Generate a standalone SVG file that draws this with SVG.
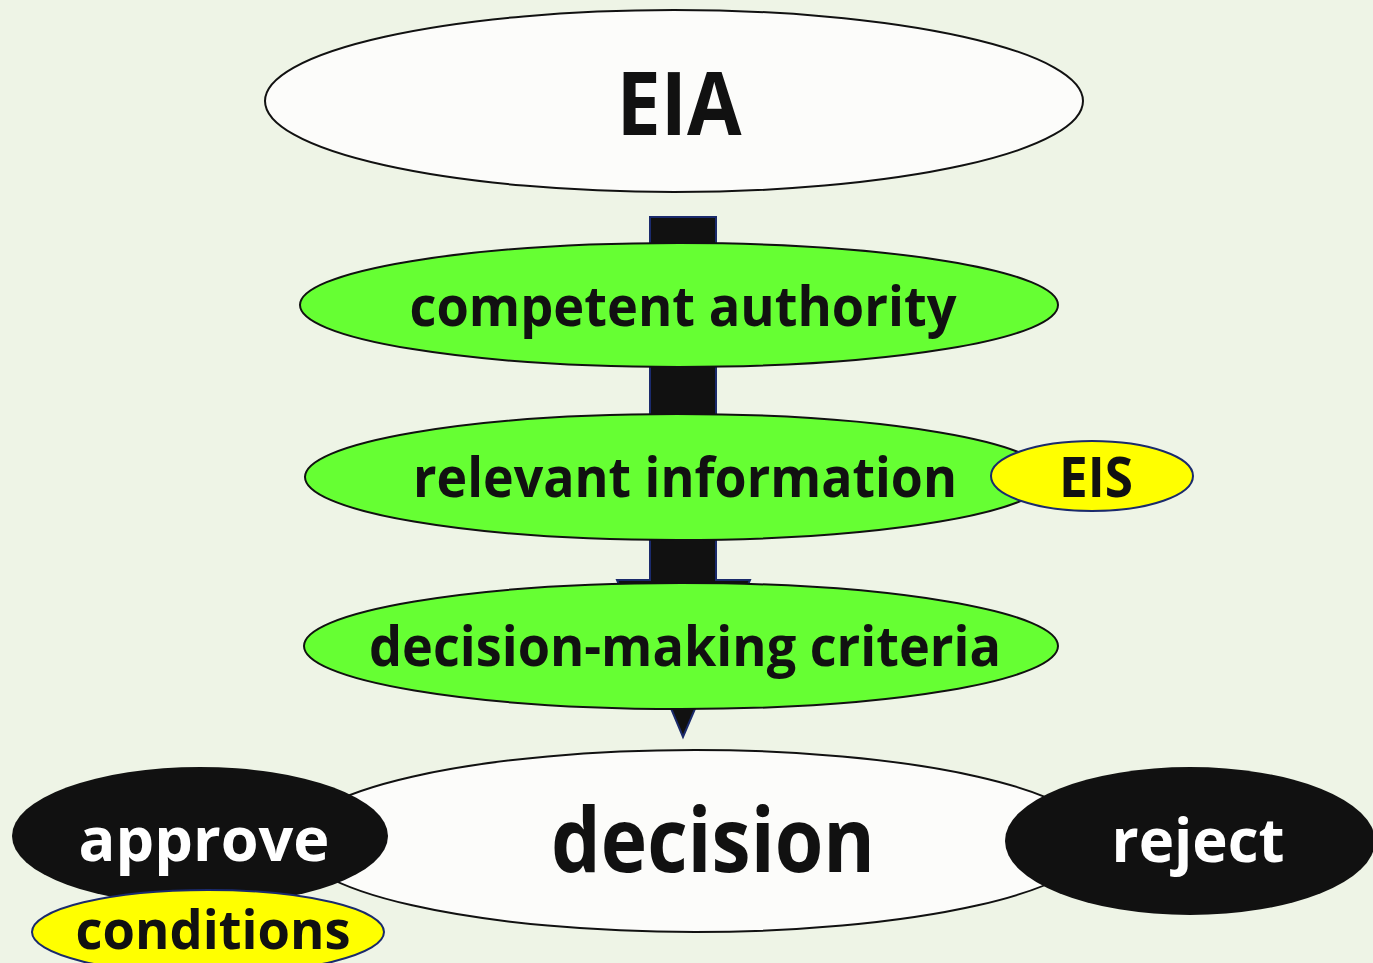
<svg xmlns="http://www.w3.org/2000/svg" width="1373" height="963" viewBox="0 0 1373 963">
<style>
.t{font-family:"Open Sans","Noto Sans","Liberation Sans",sans-serif;font-weight:700;text-anchor:middle;fill:#111;font-variant-ligatures:none}
.w{fill:#fff}
.white{fill:#fcfcfa;stroke:#111;stroke-width:2}
.green{fill:#66ff33;stroke:#111;stroke-width:2}
.yellow{fill:#ffff00;stroke:#1a2a6c;stroke-width:2}
.black{fill:#111;stroke:none}
</style>
<rect width="1373" height="963" fill="#eef4e6"/>
<g id="eia">
<ellipse class="white" cx="674" cy="101" rx="409" ry="91"/>
<text class="t" x="679" y="135" font-size="88" textLength="125" lengthAdjust="spacingAndGlyphs">EIA</text>
</g>
<g id="connectors">
<path d="M650,217 H716 V580 H750 L683,737 L617,580 H650 Z" fill="#111" stroke="#1a2a6c" stroke-width="2"/>
</g>
<g id="competent-authority">
<ellipse class="green" cx="679" cy="305" rx="379" ry="62"/>
<text class="t" x="683" y="326" font-size="56" textLength="547" lengthAdjust="spacingAndGlyphs">competent authority</text>
</g>
<g id="relevant-information">
<ellipse class="green" cx="677" cy="477" rx="372" ry="63"/>
<text class="t" x="685" y="497" font-size="56" textLength="544" lengthAdjust="spacingAndGlyphs">relevant information</text>
</g>
<g id="eis">
<ellipse class="yellow" cx="1092" cy="476" rx="101" ry="35"/>
<text class="t" x="1096" y="497" font-size="56" textLength="74" lengthAdjust="spacingAndGlyphs">EIS</text>
</g>
<g id="decision-making-criteria">
<ellipse class="green" cx="681" cy="646" rx="377" ry="63"/>
<text class="t" x="685" y="666" font-size="56" textLength="632" lengthAdjust="spacingAndGlyphs">decision-making criteria</text>
</g>
<g id="decision">
<ellipse class="white" cx="695" cy="841" rx="400" ry="91"/>
<text class="t" x="713" y="872" font-size="90" textLength="324" lengthAdjust="spacingAndGlyphs">decision</text>
</g>
<g id="approve">
<ellipse class="black" cx="200" cy="836" rx="188" ry="69"/>
<text class="t w" x="204" y="861" font-size="60" textLength="251" lengthAdjust="spacingAndGlyphs">approve</text>
</g>
<g id="reject">
<ellipse class="black" cx="1190" cy="841" rx="185" ry="74"/>
<text class="t w" x="1198" y="862" font-size="60" textLength="173" lengthAdjust="spacingAndGlyphs">reject</text>
</g>
<g id="conditions">
<ellipse class="yellow" cx="208" cy="932" rx="176" ry="42"/>
<text class="t" x="213" y="949" font-size="54" textLength="275" lengthAdjust="spacingAndGlyphs">conditions</text>
</g>
</svg>
